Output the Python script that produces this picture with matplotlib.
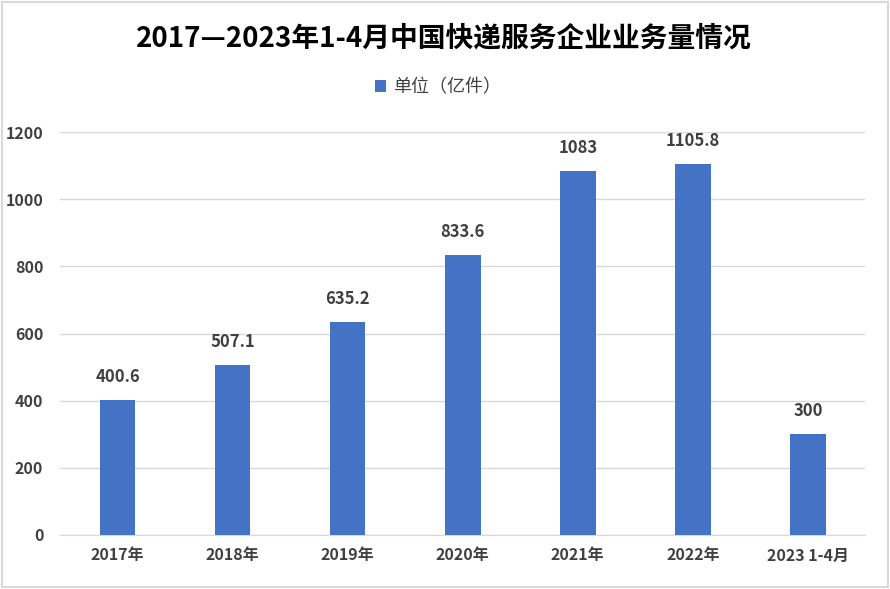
import matplotlib.pyplot as plt
from matplotlib.patches import Rectangle

plt.rcParams['font.family'] = ['Noto Sans CJK SC', 'DejaVu Sans']

# 数据
categories = ['2017年', '2018年', '2019年', '2020年', '2021年', '2022年', '2023 1-4月']
values = [400.6, 507.1, 635.2, 833.6, 1083, 1105.8, 300]
value_labels = ['400.6', '507.1', '635.2', '833.6', '1083', '1105.8', '300']
yticks = [0, 200, 400, 600, 800, 1000, 1200]

fig = plt.figure(figsize=(8.9, 5.89), dpi=100)
ax = fig.add_axes([0.0674, 0.0917, 0.905, 0.684])

x = range(len(categories))
bars = ax.bar(x, values, width=0.31, color='#4472C4', label='单位（亿件）', zorder=3)

for xi, v, lab in zip(x, values, value_labels):
    ax.text(xi, v + 42, lab, ha='center', va='bottom', fontsize=12,
            fontweight='bold', color='#404040')

ax.set_xlim(-0.5, len(categories) - 0.5)
ax.set_ylim(0, 1200)
ax.set_yticks(yticks)
ax.set_xticks(list(x))
ax.set_xticklabels(categories)
ax.tick_params(axis='both', length=0, labelsize=11.5, colors='#404040')
ax.tick_params(axis='x', pad=9)
ax.tick_params(axis='y', pad=12)
for lab in ax.get_xticklabels() + ax.get_yticklabels():
    lab.set_fontweight('bold')
ax.yaxis.grid(True, color='#d9d9d9', linewidth=1, zorder=0)
for s in ['top', 'right', 'left']:
    ax.spines[s].set_visible(False)
ax.spines['bottom'].set_color('#d9d9d9')

fig.text(0.499, 0.935, '2017—2023年1-4月中国快递服务企业业务量情况', ha='center', va='center',
         fontsize=20, fontweight='bold', color='black')
fig.legend(loc='center', bbox_to_anchor=(0.492, 0.852), frameon=False, fontsize=13,
           handlelength=0.6, handleheight=0.6, handletextpad=0.4, labelcolor='#404040')

fig.patches.append(Rectangle((0.002, 0.003), 0.996, 0.994, transform=fig.transFigure,
                             fill=False, edgecolor='#d9d9d9', linewidth=1.5))

fig.savefig('out.png', dpi=100)
